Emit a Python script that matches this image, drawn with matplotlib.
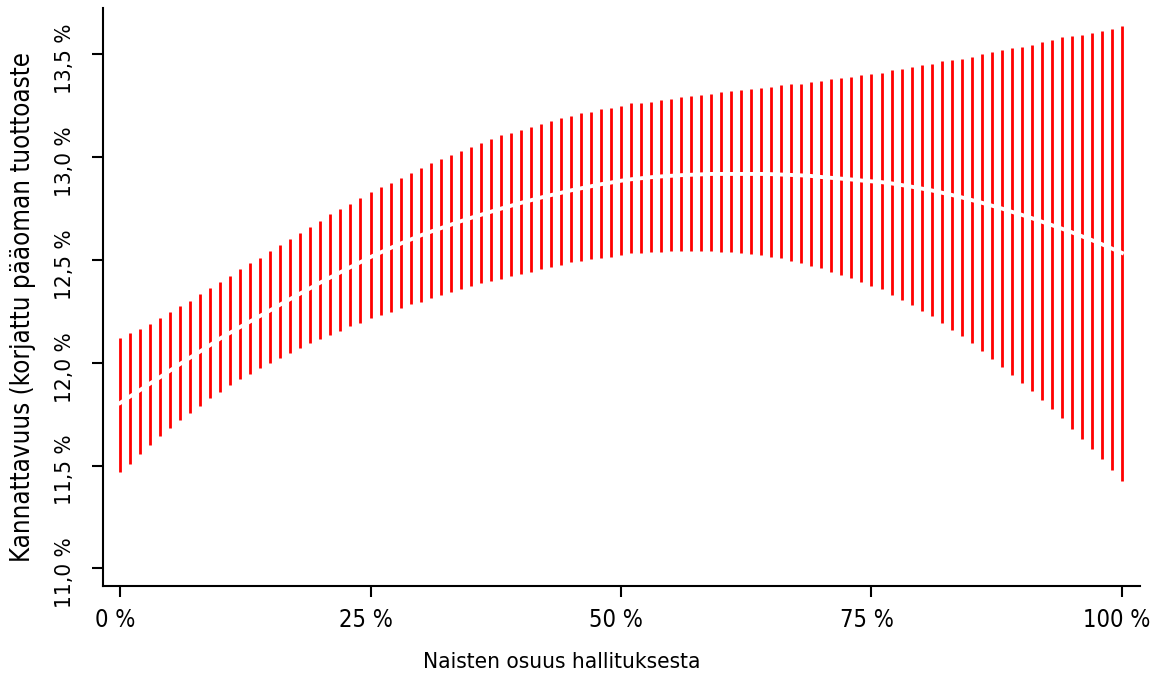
import matplotlib
matplotlib.use("Agg")
import matplotlib.pyplot as plt
import matplotlib.transforms as mtransforms

# Data (values in %)

naisten_osuus = list(range(0, 101))

kannattavuus = [11.804, 11.836, 11.867, 11.899, 11.930, 11.962, 11.994, 12.025, 12.055, 12.086,
                12.118, 12.146, 12.174, 12.201, 12.228, 12.255, 12.283, 12.310, 12.337, 12.363,
                12.390, 12.415, 12.440, 12.465, 12.489, 12.514, 12.536, 12.558, 12.579, 12.599,
                12.619, 12.637, 12.654, 12.671, 12.688, 12.704, 12.719, 12.734, 12.749, 12.763,
                12.777, 12.790, 12.803, 12.815, 12.826, 12.838, 12.848, 12.858, 12.868, 12.876,
                12.885, 12.892, 12.897, 12.902, 12.906, 12.909, 12.912, 12.914, 12.916, 12.918,
                12.918, 12.918, 12.918, 12.918, 12.918, 12.917, 12.915, 12.913, 12.911, 12.908,
                12.903, 12.899, 12.895, 12.891, 12.886, 12.882, 12.878, 12.872, 12.864, 12.856,
                12.847, 12.838, 12.827, 12.816, 12.804, 12.791, 12.778, 12.764, 12.750, 12.734,
                12.719, 12.703, 12.686, 12.669, 12.652, 12.634, 12.615, 12.596, 12.576, 12.555,
                12.534]

ala_raja = [11.468, 11.507, 11.556, 11.600, 11.643, 11.682, 11.721, 11.755, 11.789, 11.828,
            11.857, 11.892, 11.921, 11.947, 11.972, 11.999, 12.023, 12.047, 12.071, 12.096,
            12.115, 12.135, 12.154, 12.179, 12.193, 12.217, 12.232, 12.247, 12.266, 12.286,
            12.295, 12.315, 12.329, 12.344, 12.358, 12.373, 12.388, 12.397, 12.407, 12.422,
            12.431, 12.441, 12.456, 12.465, 12.475, 12.490, 12.495, 12.504, 12.509, 12.514,
            12.524, 12.534, 12.534, 12.538, 12.538, 12.543, 12.543, 12.543, 12.543, 12.543,
            12.538, 12.538, 12.534, 12.529, 12.524, 12.514, 12.509, 12.495, 12.485, 12.470,
            12.461, 12.441, 12.427, 12.412, 12.393, 12.373, 12.356, 12.329, 12.305, 12.281,
            12.251, 12.227, 12.193, 12.159, 12.130, 12.096, 12.057, 12.018, 11.979, 11.940,
            11.901, 11.862, 11.819, 11.775, 11.731, 11.678, 11.629, 11.580, 11.532, 11.478,
            11.425]

yla_raja = [12.120, 12.144, 12.164, 12.188, 12.217, 12.247, 12.276, 12.300, 12.334, 12.363,
            12.393, 12.422, 12.456, 12.485, 12.509, 12.543, 12.572, 12.602, 12.631, 12.660,
            12.689, 12.723, 12.748, 12.772, 12.801, 12.828, 12.855, 12.874, 12.898, 12.923,
            12.947, 12.971, 12.991, 13.010, 13.030, 13.049, 13.069, 13.088, 13.107, 13.117,
            13.132, 13.146, 13.161, 13.176, 13.190, 13.200, 13.214, 13.219, 13.234, 13.239,
            13.249, 13.263, 13.265, 13.268, 13.278, 13.283, 13.292, 13.297, 13.302, 13.307,
            13.317, 13.321, 13.326, 13.331, 13.336, 13.341, 13.351, 13.353, 13.356, 13.365,
            13.370, 13.380, 13.385, 13.390, 13.399, 13.404, 13.409, 13.424, 13.428, 13.438,
            13.448, 13.453, 13.467, 13.470, 13.477, 13.487, 13.501, 13.511, 13.521, 13.531,
            13.535, 13.545, 13.560, 13.570, 13.584, 13.589, 13.594, 13.604, 13.613, 13.623,
            13.638]

x_ticks = [0, 25, 50, 75, 100]
x_labels = ['0 %', '25 %', '50 %', '75 %', '100 %']
y_ticks = [11.0, 11.5, 12.0, 12.5, 13.0, 13.5]
y_labels = ['11,0 %', '11,5 %', '12,0 %', '12,5 %', '13,0 %', '13,5 %']

plt.rcParams['font.family'] = ['DejaVu Sans']
plt.rcParams['font.stretch'] = 'condensed'

W, H = 1154, 679
fig = plt.figure(figsize=(W / 100, H / 100), dpi=100)
ax = fig.add_axes([103 / W, 1 - 586 / H, (1140 - 103) / W, (586 - 8) / H])

# Plot

ax.vlines(naisten_osuus, ala_raja, yla_raja, color='red', linewidth=2.0)
ax.plot(naisten_osuus, kannattavuus, color='white', linewidth=2.8)

ax.set_xlim(-1.7, 101.8)
ax.set_ylim(10.914, 13.725)

for side in ['top', 'right']:
    ax.spines[side].set_visible(False)
for side in ['left', 'bottom']:
    ax.spines[side].set_linewidth(1.5)

ax.set_xticks(x_ticks)
ax.set_xticklabels(x_labels, fontsize=17)
ax.set_yticks(y_ticks)
ax.set_yticklabels(y_labels, rotation=90, va='center', fontsize=16.2)

ax.tick_params(axis='both', direction='out', length=8, width=1.5, colors='black')
ax.tick_params(axis='x', pad=8)
ax.tick_params(axis='y', pad=12)

# labels sit a few pixels off-centre in the original
shift_x = mtransforms.ScaledTranslation(-5 / 100, 0, fig.dpi_scale_trans)
for lab in ax.get_xticklabels():
    lab.set_transform(lab.get_transform() + shift_x)
shift_y = mtransforms.ScaledTranslation(0, -4.5 / 100, fig.dpi_scale_trans)
for lab in ax.get_yticklabels():
    lab.set_transform(lab.get_transform() + shift_y)

ax.set_xlabel('Naisten osuus hallituksesta', fontsize=16.2)
ax.xaxis.label.set_va('baseline')
ax.xaxis.set_label_coords((562 - 103) / 1037, (586 - 668) / 578)

ax.set_ylabel('Kannattavuus (korjattu pääoman tuottoaste', fontsize=18.5)
ax.yaxis.label.set_va('baseline')
ax.yaxis.set_label_coords((30 - 103) / 1037, (586 - 307) / 578)

fig.savefig('out.png', dpi=100)
